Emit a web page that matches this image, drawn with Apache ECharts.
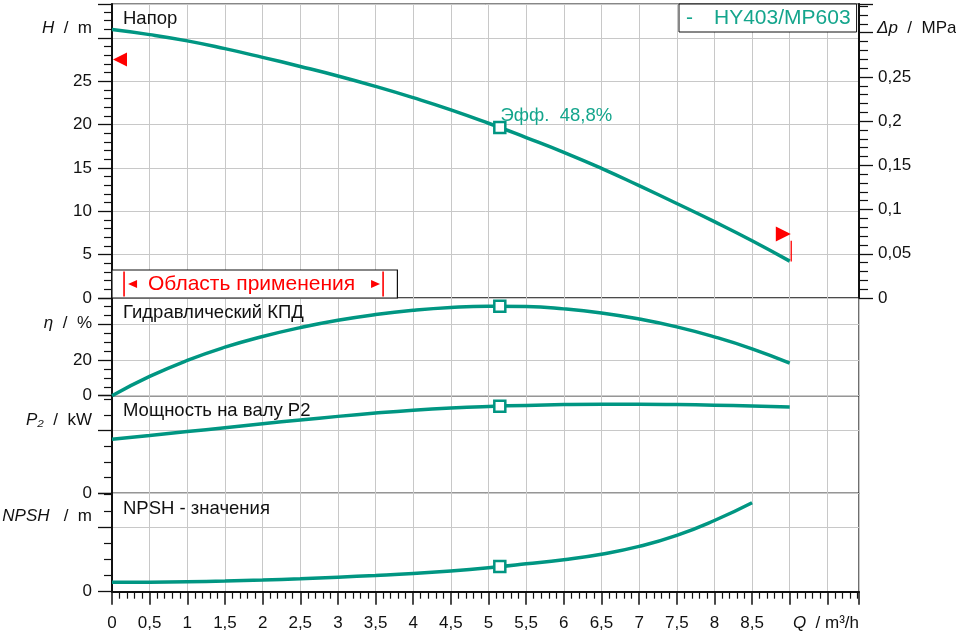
<!DOCTYPE html>
<html>
<head>
<meta charset="utf-8">
<script src="https://cdn.jsdelivr.net/npm/echarts@6/dist/echarts.min.js"></script>
<style>
  html, body { margin: 0; padding: 0; background: #fff; }
  #chart { width: 956px; height: 636px; }
</style>
</head>
<body>
<div id="chart"></div>
<script>
var modelName = "HY403/MP603";

// flow rate Q, m³/h
var qValues = [0, 0.5, 1, 1.5, 2, 2.5, 3, 3.5, 4, 4.5, 5, 5.5, 6, 6.5, 7, 7.5, 8, 8.5, 9];
// head H, m
var headValues = [30.95, 30.37, 29.65, 28.75, 27.75, 26.7, 25.6, 24.4, 23.1, 21.7, 20.15, 18.5, 16.8, 14.95, 12.95, 10.9, 8.8, 6.6, 4.25];
// hydraulic efficiency, %
var effValues = [0, 10.8, 19.8, 27.2, 33.2, 38.2, 42.3, 45.5, 47.9, 49.5, 50.2, 50.0, 48.7, 46.4, 43.0, 38.6, 33.0, 26.3, 18.3];
// shaft power P2, kW
var powerValues = [0.344, 0.368, 0.393, 0.418, 0.443, 0.467, 0.490, 0.511, 0.529, 0.543, 0.553, 0.560, 0.565, 0.567, 0.567, 0.565, 0.561, 0.556, 0.550];
// NPSH, m (curve stops at 8.5)
var npshQ = [0, 0.5, 1, 1.5, 2, 2.5, 3, 3.5, 4, 4.5, 5, 5.5, 6, 6.5, 7, 7.5, 8, 8.5];
var npshValues = [0.29, 0.295, 0.31, 0.33, 0.36, 0.40, 0.45, 0.50, 0.56, 0.64, 0.74, 0.86, 0.99, 1.16, 1.40, 1.74, 2.20, 2.75];

// best efficiency point
var bepQ = 5.15;
var bepHead = 19.65, bepEff = 50.2, bepPower = 0.555, bepNpsh = 0.78;
var bepLabel = "Эфф.  48,8%";

// red limit markers on the head chart
var limitLeft = [0.106, 27.5];
var limitRight = [8.915, 7.39];
var limitLine = [[9.02, 4.2], [9.02, 6.6]];

// application range (Q) and its label box (Q, H)
var appRange = [0.16, 3.6];
var rangeBox = [3.79, 3.23];

// axis extents
var qMax = 9.92, hMax = 33.9, effMax = 54.8, powerMax = 0.6217, npshMax = 3.04;
var mPerMPa = 101.97;

var green = "#009682";
var greenText = "#14a58c";
var gridGray = "#c8c8c8";
var font = "'Liberation Sans', Arial, sans-serif";

function pairs(xs, ys) {
  return xs.map(function (x, i) { return [x, ys[i]]; });
}
function comma(v) {
  return String(v).replace(".", ",");
}

var tops = [4, 298, 395.7, 493.3];
var heights = [294, 97.7, 97.6, 98.4];

var grids = tops.map(function (t, i) {
  return {
    left: 112, right: 97, top: t, height: heights[i],
    show: true, borderColor: "#111", borderWidth: 1.2, backgroundColor: "transparent"
  };
});

var xAxes = [0, 1, 2, 3].map(function (i) {
  var bottom = i === 3;
  return {
    type: "value", gridIndex: i, min: 0, max: qMax, interval: 0.5,
    axisLine: { show: bottom, onZero: false, lineStyle: { color: "#111", width: 2 } },
    axisTick: { show: bottom, length: 13, lineStyle: { color: "#111", width: 1.5 } },
    minorTick: { show: bottom, splitNumber: 5, length: 7, lineStyle: { color: "#111", width: 1.2 } },
    axisLabel: {
      show: bottom, margin: 23, color: "#111", fontSize: 17, fontFamily: font,
      formatter: function (v) { return v > 8.6 ? "" : comma(v); }
    },
    splitLine: { show: true, lineStyle: { color: gridGray, width: 1 } }
  };
});

function leftAxis(grid, max, interval, split, maxLabel) {
  return {
    type: "value", gridIndex: grid, position: "left", min: 0, max: max, interval: interval,
    axisLine: { show: true, onZero: false, lineStyle: { color: "#111", width: 2 } },
    axisTick: { show: true, length: 14, lineStyle: { color: "#111", width: 1.3 } },
    minorTick: { show: true, splitNumber: split, length: 8, lineStyle: { color: "#111", width: 1.2 } },
    axisLabel: {
      margin: 20, color: "#111", fontSize: 17, fontFamily: font,
      formatter: function (v) { return v > maxLabel ? "" : comma(v); }
    },
    splitLine: { show: true, lineStyle: { color: gridGray, width: 1 } }
  };
}

var yAxes = [
  leftAxis(0, hMax, 5, 5, 25),
  {
    type: "value", gridIndex: 0, position: "right", min: 0, max: hMax / mPerMPa, interval: 0.05,
    axisLine: { show: true, onZero: false, lineStyle: { color: "#111", width: 2 } },
    axisTick: { show: true, length: 14, lineStyle: { color: "#111", width: 1.3 } },
    minorTick: { show: true, splitNumber: 5, length: 9, lineStyle: { color: "#111", width: 1.2 } },
    axisLabel: {
      margin: 19, color: "#111", fontSize: 17, fontFamily: font,
      formatter: function (v) { return v > 0.26 ? "" : comma(v); }
    },
    splitLine: { show: false }
  },
  leftAxis(1, effMax, 20, 4, 20),
  leftAxis(2, powerMax, 0.4, 4, 0),
  leftAxis(3, npshMax, 2, 4, 0)
];

function curve(xi, yi, data) {
  return {
    name: modelName, type: "line", xAxisIndex: xi, yAxisIndex: yi,
    data: data, smooth: 0.5, showSymbol: false, silent: true, z: 3,
    lineStyle: { color: green, width: 3.5 }, itemStyle: { color: green }
  };
}
function bep(xi, yi, value, label) {
  var s = {
    type: "scatter", xAxisIndex: xi, yAxisIndex: yi, data: [[bepQ, value]],
    symbol: "rect", symbolSize: 11, silent: true, z: 5,
    itemStyle: { color: "#fff", borderColor: green, borderWidth: 2.5, opacity: 1 }
  };
  if (label) {
    s.label = {
      show: true, position: [7.5, -4.5], align: "left", verticalAlign: "middle",
      formatter: label, color: greenText, fontSize: 18.5, fontFamily: font
    };
  }
  return s;
}
function triangle(point, rotate, size) {
  return {
    type: "scatter", xAxisIndex: 0, yAxisIndex: 0, data: [point],
    symbol: "triangle", symbolRotate: rotate, symbolSize: size, silent: true, z: 6,
    itemStyle: { color: "#ff0000", opacity: 1 }
  };
}

var series = [
  curve(0, 0, pairs(qValues, headValues)),
  curve(1, 2, pairs(qValues, effValues)),
  curve(2, 3, pairs(qValues, powerValues)),
  curve(3, 4, pairs(npshQ, npshValues)),
  bep(0, 0, bepHead, bepLabel),
  bep(1, 2, bepEff),
  bep(2, 3, bepPower),
  bep(3, 4, bepNpsh),
  triangle(limitLeft, 90, 14),
  triangle(limitRight, -90, 15),
  {
    type: "line", xAxisIndex: 0, yAxisIndex: 0, data: limitLine, showSymbol: false,
    silent: true, z: 6, lineStyle: { color: "#ff0000", width: 1.3 }
  }
];

var chart = echarts.init(document.getElementById("chart"));
chart.setOption({
  animation: false,
  backgroundColor: "#fff",
  grid: grids,
  xAxis: xAxes,
  yAxis: yAxes,
  legend: {
    data: [modelName], left: 679, top: 4, icon: "none", itemWidth: 0, itemHeight: 10,
    itemGap: 0, padding: [3, 6, 2, 2], borderColor: "#111", borderWidth: 1,
    backgroundColor: "#fff", selectedMode: false,
    formatter: "{d|-}{n|" + modelName + "}",
    textStyle: {
      color: greenText, fontSize: 21, fontFamily: font, lineHeight: 23,
      rich: {
        d: { width: 28, fontSize: 21, fontFamily: font, color: greenText, lineHeight: 23 },
        n: { fontSize: 21, fontFamily: font, color: greenText, lineHeight: 23 }
      }
    }
  },
  series: series
});

// text labels and the application range box
function text(x, y, str, align, size, color) {
  return {
    type: "text", x: x, y: y, z: 20, silent: true,
    style: {
      text: str, fontSize: size || 18.5, fontFamily: font, fill: color || "#111",
      align: align || "left", verticalAlign: "middle",
      textAlign: align || "left", textVerticalAlign: "middle",
      rich: { i: { fontStyle: "italic", fontSize: size || 17, fontFamily: font, fill: color || "#111" } }
    }
  };
}

var px = function (q, h) {
  return chart.convertToPixel({ xAxisIndex: 0, yAxisIndex: 0 }, [q, h]);
};
var b0 = px(0, 0), b1 = px(rangeBox[0], rangeBox[1]);
var xl = px(appRange[0], 0)[0], xr = px(appRange[1], 0)[0];
var yTop = b1[1], yBot = b0[1], yMid = (yTop + yBot) / 2;

var elements = [
  text(123, 19, "Напор"),
  text(123, 313, "Гидравлический КПД"),
  text(123, 411, "Мощность на валу P2"),
  text(123, 508.5, "NPSH - значения"),
  text(92, 28.5, "{i|H}  /  m", "right", 17),
  text(92, 323, "{i|η}  /  %", "right", 17),
  text(92, 420, "{i|P₂}  /  kW", "right", 17),
  text(92, 516.5, "{i|NPSH}   /  m", "right", 17),
  text(877, 28.5, "{i|Δp}  /  MPa", "left", 17),
  text(859, 623.5, "{i|Q}  / m³/h", "right", 17),
  {
    type: "rect", z: 15, silent: true,
    shape: { x: b0[0], y: yTop, width: b1[0] - b0[0], height: yBot - yTop },
    style: { fill: "#fff", stroke: "#111", lineWidth: 1.2 }
  },
  {
    type: "line", z: 16, silent: true,
    shape: { x1: xl, y1: yTop + 1.5, x2: xl, y2: yBot - 1.5 },
    style: { stroke: "#ff0000", lineWidth: 1.6 }
  },
  {
    type: "line", z: 16, silent: true,
    shape: { x1: xr, y1: yTop + 1.5, x2: xr, y2: yBot - 1.5 },
    style: { stroke: "#ff0000", lineWidth: 1.6 }
  },
  {
    type: "polygon", z: 16, silent: true,
    shape: { points: [[xl + 4, yMid], [xl + 13, yMid - 4], [xl + 13, yMid + 4]] },
    style: { fill: "#ff0000" }
  },
  {
    type: "polygon", z: 16, silent: true,
    shape: { points: [[xr - 3, yMid], [xr - 12, yMid - 4], [xr - 12, yMid + 4]] },
    style: { fill: "#ff0000" }
  },
  text((xl + xr) / 2 - 2, yMid, "Область применения", "center", 21, "#ff0000")
];
chart.setOption({ graphic: { elements: elements } });
</script>
</body>
</html>
